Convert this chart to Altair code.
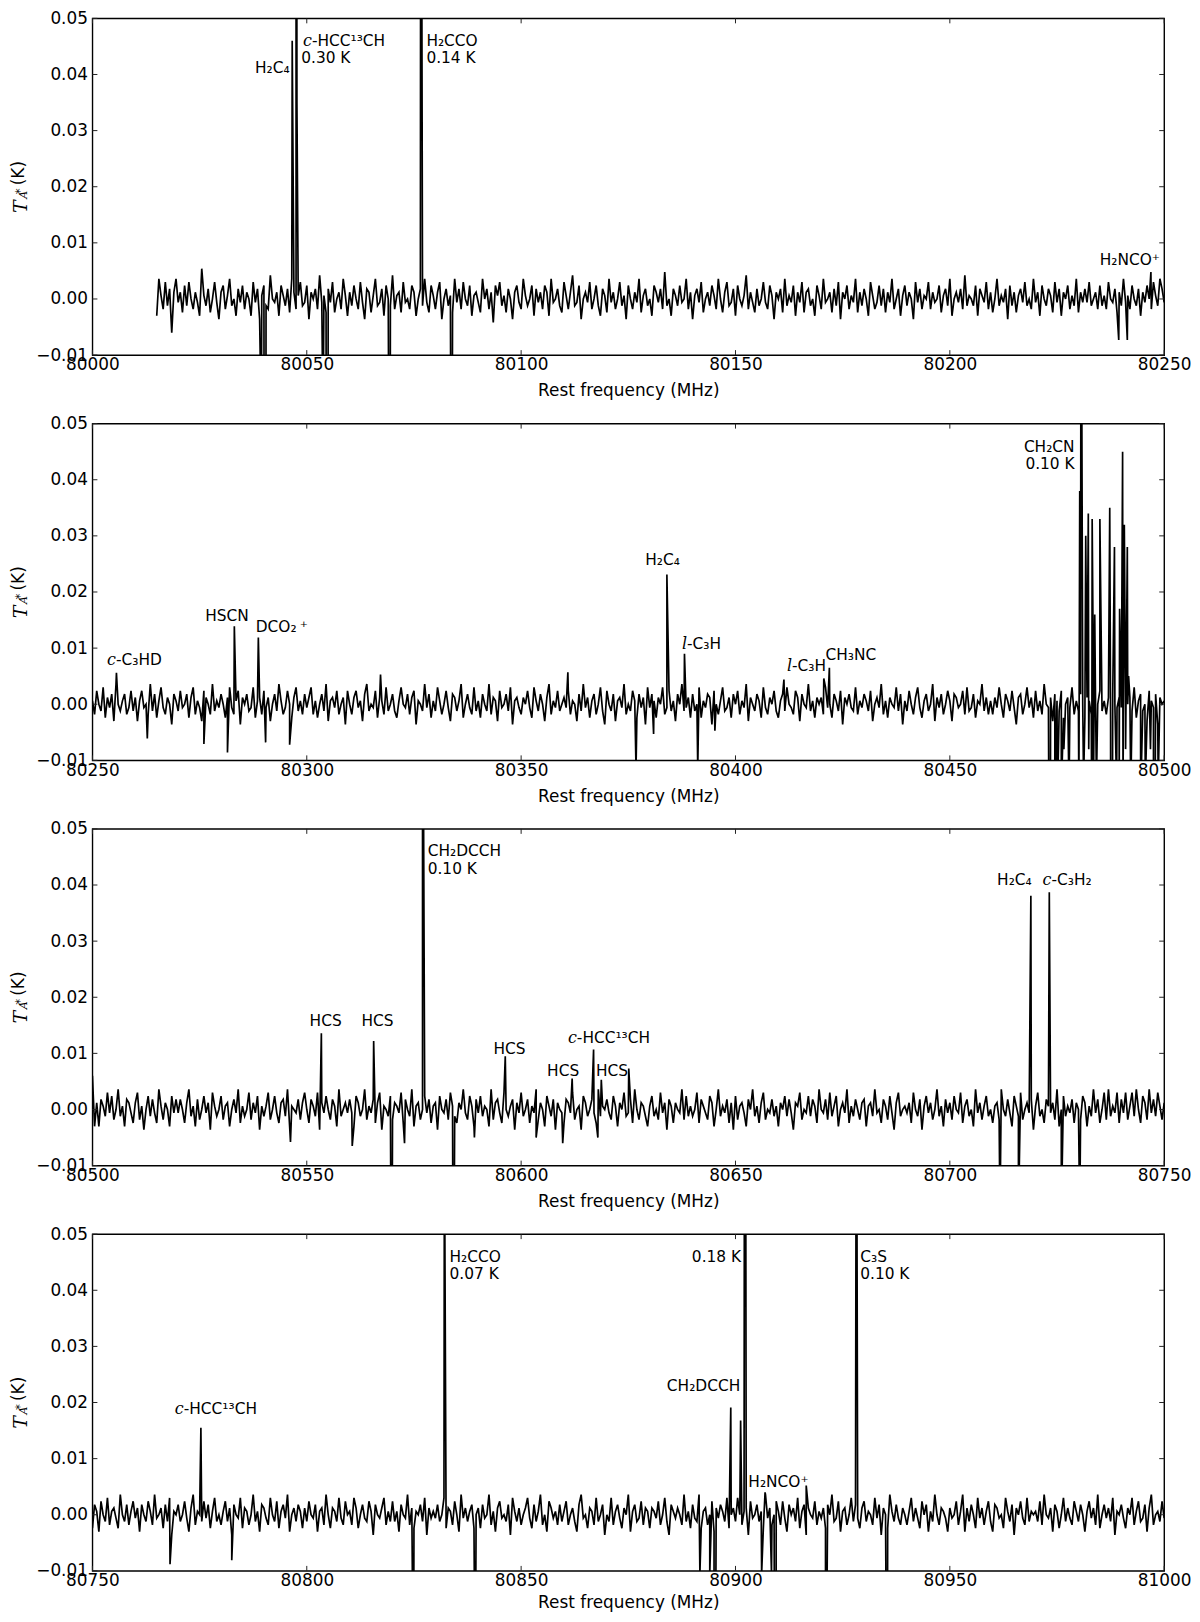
import altair as alt
import pandas as pd

# ---------------- data ----------------
PANEL_START = [80000, 80250, 80500, 80750]
NOISE_START = [80015.0, 80250.0, 80500.0, 80750.0]
NOISE_STEP = 0.5          # MHz between noise samples
NOISE_UNIT = 0.0006       # noise values below are in units of 0.6 mK

noise1 = [
    -5, 6, 1, -3, 5, -2, 3, -10, 2, 6, -1, 2, -4, 4, -2, 5, 0, -3, 2, -1,
    -5, 9, 1, -2, 3, -4, 0, 5, -1, -6, 2, 4, -3, 1, 6, -2, 0, -5, 3, -1,
    4, -3, 2, 0, -5, 5, -1, 3, -6, 1, 4, -2, -3, 7, 0, -1, 2, -5, 4, 1,
    -2, 3, -4, 6, 2, -3, 1, 5, -2, -1, 4, -6, 2, 0, 3, -3, 7, -1, 1, -4,
    3, -1, 5, -4, 0, 2, -3, 6, 1, -5, 2, -2, 4, 0, -3, 5, -1, -6, 3, 2,
    -4, 1, 6, -2, -1, 3, -5, 4, 0, -2, 7, -3, 1, 2, -4, 5, -1, 0, -3, 4,
    2, -5, 0, 3, -2, 6, -1, -4, 4, 1, -3, 2, 5, -6, 0, 3, -2, 1, -4, 6,
    -1, 3, -3, 5, 0, -2, 4, -5, 1, 2, -1, -4, 6, 0, 3, -3, 2, -7, 4, 1,
    5, -2, 1, -4, 3, 0, -6, 2, 4, -1, -3, 6, 1, -2, 0, 4, -5, 3, -1, 2,
    -3, 4, 2, -5, 6, -1, 0, 3, -2, -4, 5, 1, -3, 2, 7, -2, -1, 4, -6, 0,
    2, -1, 5, -3, 0, 4, -2, -5, 3, 1, -4, 6, -1, 2, -3, 0, 5, -2, 1, -6,
    4, 0, -3, 2, -1, 6, -4, 1, 3, -2, 0, -5, 4, 2, -1, 3, -3, 8, -2, 0,
    -5, 3, 1, -2, 4, -1, 0, 6, -3, 2, -6, 1, 3, -1, 5, -4, 0, 2, -2, 4,
    1, -3, 6, 0, -4, 2, 5, -2, -1, 3, -5, 4, 0, -2, 1, 7, -3, 2, -1, -4,
    3, -2, 0, 5, -1, -3, 4, 1, -6, 2, 0, 3, -4, 6, -2, 1, -1, 4, -5, 2,
    -1, 5, -4, 2, 3, -2, 0, -5, 4, 1, -3, 6, -1, 0, 2, -4, 3, -2, 5, -6,
    2, 0, 4, -3, 1, -1, 6, -4, 2, -2, 3, 0, -5, 5, 1, -3, -1, 4, -2, 3,
    -4, 2, -1, 6, -3, 0, 3, -5, 1, 4, -2, 2, 0, -6, 5, -1, 3, -3, 1, 0,
    5, -3, 2, -1, 0, 4, -4, 1, 3, -2, 6, -5, 0, 2, -1, 3, -3, 7, -2, 1,
    0, -2, 4, -5, 3, 1, -1, 5, -3, 2, -4, 0, 6, -2, 1, -1, 3, -6, 4, -2,
    2, -4, 1, 3, -1, 5, -2, 0, -3, 6, -1, 2, -5, 4, 0, -2, 3, 1, -4, 5,
    -1, 3, -5, 2, 0, 4, -3, 1, -2, 6, -4, 2, -1, 3, -1, 5, -2, 0, 2, -3,
    4, -2, 1, -3, 5, 0, -1, 3, -4, 2, -2, 6, -1, 1, -3, 4, 0, -2, 3, -5,
    2, -1, 4, 0, -3, 5, 1, -2, 6, 3, -1,
]
noise2 = [
    1, -3, 4, 0, -2, 5, -4, 2, -1, 3, -5, 6, 0, -2, 1, 3, -3, -1, 4, -2,
    2, -5, 1, 4, -1, 0, -3, 6, -2, 3, -4, 1, 5, -1, -3, 2, 0, -6, 3, 1,
    -2, 4, -1, 0, 3, -4, 2, 5, -3, 1, -1, -5, 4, 2, 0, -3, 6, -2, 1, -1,
    3, 0, -4, 2, 5, -1, -3, 1, 4, -6, 2, 0, 3, -2, -1, 5, -4, 1, 2, -3,
    4, -1, 2, -5, 0, 3, -2, 6, 1, -3, -1, 4, 0, -4, 2, 5, -2, 1, -3, 3,
    -1, 2, 5, -3, 1, -4, 0, 3, -2, 6, -5, 1, 2, -1, 4, -3, 0, 2, -6, 4,
    0, -3, 2, 4, -1, 1, -5, 3, 6, -2, 0, -1, 4, -4, 2, 1, -3, 5, -2, 0,
    3, -2, -4, 1, 5, 0, -1, 3, -3, 2, 4, -6, 1, 0, -2, 6, -1, 3, -4, 1,
    -2, 5, 1, -3, 0, 4, -1, -5, 3, 2, -2, 1, 6, -4, 0, 3, -1, -3, 5, -2,
    1, -4, 3, 0, -2, 6, -3, 2, 1, -5, 4, -1, 0, 3, -2, 5, -6, 1, 2, -1,
    -3, 2, 0, 4, -1, -4, 5, 1, -2, 3, 0, -5, 2, 6, -3, 1, -1, 4, -2, 0,
    2, -1, 4, -3, 1, 0, -5, 3, -2, 6, -1, 2, -4, 1, 3, -3, 0, 5, -2, -6,
    4, 0, -2, 3, -5, 1, 2, -1, 6, -3, 0, -2, 4, 1, -4, 3, -1, 2, -6, 5,
    -1, 3, 1, -4, 2, 0, 5, -3, -1, 4, -2, 1, -5, 3, 0, 6, -2, -1, 2, -4,
    3, -2, 0, 5, -4, 1, -1, 3, 2, -6, 4, 0, -3, 1, 5, -2, -1, 2, -4, 3,
    0, 4, -3, 1, -1, 6, -5, 2, 0, -2, 3, 1, -4, 5, -1, -3, 2, 0, 4, -2,
    -4, 1, 3, -2, 5, 0, -1, -3, 4, 2, -5, 3, 0, -1, 6, -2, 1, -4, 2, 0,
    2, -3, 5, -1, 0, -4, 3, 1, -2, 4, -6, 2, 0, 3, -1, -2, 5, -3, 1, -1,
    3, 1, -2, 4, -5, 0, 2, -1, 6, -3, 1, -4, 2, 0, -1, 5, -2, 3, -6, 1,
    -2, 4, 0, -3, 2, 5, -1, -4, 1, 3, -2, 0, 6, -5, 2, -1, 3, -3, 0, 4,
    1, -5, 3, 2, -1, 0, 4, -3, 5, -2, -1, 3, -4, 1, 0, 6, -2, 2, -3, 1,
    -3, 2, -1, 5, 0, -4, 3, 1, -2, 4, -1, -6, 2, 3, -3, 0, 5, -1, 2, -4,
    4, -2, 1, -3, 6, 0, -1, 2, -5, 3, 1, -2, 4, -4, 0, 2, -1, 5, -3, 1,
    -2, 3, 0, -4, 2, 1, -3, 5, -1, 0, 4, -2, 1, -3, 2, -5, 3, 0, -1, 2,
    -1, 4, -3, 0, 2, -2, 5, -4, 1, 3, -2, 0, -5, 4, 1, -1, 3, -6, 2, 0,
    1,
]
noise3 = [
    10, -5, 2, -5, 3, 1, -2, 5, -1, 4, -3, 0, 6, -2, 1, -5, 3, 2, -1, -4,
    2, 5, -3, 1, -6, 0, 4, -2, 3, -1, -4, 6, 1, -3, 2, 0, -5, 4, -1, 3,
    -1, 3, 0, -4, 2, 6, -2, 1, -5, 3, -3, 0, 4, -1, 2, -6, 5, 1, -2, 0,
    4, -3, 1, 2, -5, 0, 3, -1, 6, -4, 1, -2, 0, 5, -3, 2, -1, 4, -6, 1,
    -2, 1, 5, -3, 0, 4, -1, -4, 2, 3, -2, 6, -5, 1, 0, -1, 3, -3, 2, 5,
    0, -4, 3, 1, -2, 5, -6, 2, -1, 4, 0, -3, 3, 1, -5, 6, -2, 0, 2, -1,
    3, -1, -5, 4, 2, -2, 0, 6, -3, 1, -1, 3, -4, 2, 5, -6, 1, 0, -2, 4,
    -3, 2, 1, -1, 5, -4, 3, 0, -2, 6, -5, 1, 2, -3, 0, 4, -1, 3, -4, 1,
    2, -6, 4, 0, -1, 3, -3, 5, 1, -2, -4, 2, 0, 6, -1, -3, 4, 1, -5, 3,
    -1, 4, -2, 1, 0, -5, 6, -3, 2, 3, -1, -4, 5, 0, -2, 1, 3, -6, 2, -1,
    5, -2, 0, 3, -4, 1, -1, 6, -3, 2, 0, -5, 4, 1, -2, 3, -6, 2, 0, -1,
    -4, 3, 2, -1, 5, -3, 0, 1, -6, 4, 2, -2, 0, 3, -1, -4, 6, -2, 1, 0,
    3, -1, -3, 4, 1, -5, 2, 0, 5, -2, -1, 3, -4, 6, 0, -3, 2, 1, -2, -5,
    1, 4, -2, 0, -3, 5, -1, 2, -6, 3, 1, -4, 2, 0, -1, 6, -3, 4, -2, 1,
    -2, 0, 5, -4, 3, 1, -1, -3, 4, 2, -5, 0, 6, -2, 1, -1, 3, -4, 2, -6,
    4, -3, 1, 2, -1, -5, 3, 0, 6, -2, 1, -4, 2, 5, -3, 0, -1, 3, -2, 1,
    -5, 2, 0, 4, -2, 3, -1, -6, 2, 1, 5, -3, 0, -1, 4, -2, 3, 1, -4, 6,
    0, -1, 3, -3, 5, -2, 1, 4, -5, 0, 2, -1, 6, -4, 1, -2, 3, 0, -3, 2,
    3, -5, 1, 2, -2, 6, -1, 0, -4, 3, 1, -3, 4, -1, -6, 2, 5, -2, 0, 1,
    -1, 2, -4, 5, 0, -2, 3, -6, 1, 4, -1, 2, -3, 0, 6, -2, 1, -5, 3, -1,
    2, -3, 4, 0, -1, 5, -4, 1, 3, -2, 0, -5, 6, -1, 2, -3, 1, 4, -2, 0,
    -4, 1, 2, -3, 6, 0, -2, 3, -1, -5, 4, 1, -2, 5, -3, 0, 2, -1, 3, -6,
    1, 5, -2, 0, -4, 3, 1, -1, 2, -3, 6, -5, 0, 4, -2, 1, -1, 3, -4, 2,
    0, -3, 4, 2, -5, 1, -2, 6, -1, 3, -4, 0, 5, -3, 6, -2, 1, -1, 5, -4,
    3, -1, 5, -3, 1, 5, -2, 6, 0, -4, 4, 2, -3, 6, -1, 3, -2, 5, 1, -3,
    2,
]
noise4 = [
    -4, 3, 1, -5, 4, 0, -2, 5, -3, 1, 2, -1, -4, 6, 0, -2, 3, -3, 1, 4,
    -1, 2, -5, 3, 0, -2, 4, 1, -3, 6, -1, 0, 2, -4, 3, -2, 5, -6, 1, 0,
    3, -2, 0, 4, -1, -5, 2, 6, -3, 1, 0, -2, 4, -1, 3, -4, 1, 5, -2, 0,
    -3, 1, 4, -2, 2, -6, 3, 0, -1, 5, -4, 2, 1, -3, 0, 6, -2, 1, -5, 3,
    2, -1, -3, 5, 0, -2, 4, -4, 1, 3, -1, 6, -5, 0, 2, -2, 3, 1, -4, 2,
    -2, 4, 0, -1, 3, -5, 1, 2, -3, 6, 0, -4, 2, 1, -2, 5, -1, -3, 4, 0,
    1, -3, 5, 2, -4, 0, 3, -1, -2, 4, 1, -6, 3, 0, -1, 2, 5, -3, 1, -2,
    4, -2, 1, -5, 3, 0, -1, 6, -3, 2, -4, 1, 0, 3, -2, 5, -6, 2, -1, 1,
    -1, 3, -2, 0, 5, -4, 2, 1, -3, 4, 0, -5, 6, -1, 2, -2, 1, 3, -4, 0,
    2, -4, 3, -1, 0, 6, -3, 1, -5, 2, 4, -1, 0, -2, 3, -6, 5, 1, -2, 2,
    -3, 0, 2, 5, -1, -4, 3, -2, 1, 6, -3, 0, -5, 4, 2, -1, 1, -3, 3, -2,
    1, 4, -3, 0, 2, -2, -5, 3, 6, -1, 0, -4, 2, 1, -3, 5, -2, 0, 3, -6,
    0, -2, 5, -3, 1, 3, -1, -4, 2, 0, 6, -5, 1, 3, -2, -1, 4, -3, 2, 1,
    -4, 2, 1, -1, 4, -3, 0, 5, -2, -6, 3, 1, -1, 2, 0, -3, 6, -2, 1, -4,
    3, -1, -2, 6, -4, 1, 2, -3, 0, 4, -5, 2, -1, 3, 1, -2, 5, -4, 0, 2,
    -2, 5, 0, -3, 1, 2, -6, 4, -1, 0, 3, -2, 1, -4, 6, -1, 2, -3, 0, 4,
    1, -3, 4, -1, -5, 3, 0, 2, -2, 5, -4, 1, 3, -6, 2, 0, -1, 4, -3, 1,
    -1, 2, -4, 3, 0, 6, -2, -1, 4, -5, 1, 2, -3, 0, 5, -2, 3, -1, -4, 2,
    4, -2, 1, 0, -3, 5, -1, 3, -6, 2, 0, -4, 6, 1, -2, 3, -1, -3, 2, 0,
    -3, 1, 5, -2, 2, -1, -4, 4, 0, 3, -5, 1, -2, 6, 0, -3, 2, 1, -1, -5,
    2, -1, 0, 4, -3, 1, 6, -5, 2, -2, 3, 0, -4, 5, -1, 2, -3, 1, 4, -2,
    -5, 3, 2, -1, 0, -4, 5, 1, -2, 3, -6, 2, 0, 4, -1, -3, 5, -2, 1, 0,
    1, -2, 4, -3, 6, 0, -1, 2, -5, 3, 1, -4, 0, 5, -2, 2, -1, -3, 4, 1,
    -2, 3, 0, -5, 1, 4, -1, 2, -3, 6, -4, 0, 3, -1, 2, -2, 5, -6, 1, 0,
    3, -1, -4, 2, 0, 5, -3, 1, 4, -2, -1, 3, -5, 2, 6, -3, 0, 1, -2, 4,
    -1,
]

# line features: frequency (MHz) and antenna temperature (K)
lines1_f = [80039.4, 80040.3, 80046.6, 80047.5, 80047.7, 80053.8, 80054.7,
            80069.4, 80076.6, 80083.8, 80239.4, 80241.4, 80246.9]
lines1_t = [-0.023, -0.15, 0.046, 0.30, 0.035, -0.023, -0.15,
            -0.07, 0.14, -0.07, -0.0073, -0.0073, 0.0048]

lines2_f = [80255.6, 80262.8, 80276.0, 80281.5, 80283.1, 80288.7, 80290.4,
            80296.0, 80317.2, 80360.9, 80376.8, 80380.9, 80384.0, 80388.1,
            80391.2, 80395.2, 80411.3, 80420.6, 80421.9,
            80473.1, 80473.4, 80474.5, 80475.1, 80476.0, 80476.6, 80477.8,
            80480.1, 80480.3, 80480.6, 80481.2, 80481.7, 80482.3, 80482.4,
            80483.1, 80483.2, 80483.5, 80483.8, 80484.2, 80485.0, 80487.3,
            80487.5, 80487.8, 80488.4, 80488.9, 80489.5, 80489.6, 80490.3,
            80490.4, 80490.7, 80491.0, 80491.4, 80491.7, 80492.2, 80494.5,
            80495.6, 80496.8, 80497.5, 80497.9, 80498.6]
lines2_t = [0.0056, -0.0061, -0.0071, -0.0086, 0.0139, 0.0119, -0.0068,
            -0.0072, 0.0053, 0.0057, -0.0115, -0.0053, 0.0231, 0.0090,
            -0.0115, -0.0047, 0.0044, 0.0046, 0.0065,
            -0.019, -0.05, -0.015, -0.017, -0.016, -0.008, -0.016,
            -0.017, 0.038, 0.10, -0.014, 0.030, 0.034, -0.008,
            -0.023, 0.033, -0.016, 0.016, -0.014, 0.033, 0.035,
            -0.019, -0.05, 0.028, -0.015, -0.017, 0.017, 0.045,
            -0.016, 0.032, -0.008, 0.028, 0.005, -0.016, -0.017,
            -0.014, -0.008, -0.023, -0.016, -0.014]

lines3_f = [80546.2, 80553.4, 80560.6, 80565.6, 80569.8, 80572.8, 80577.0,
            80584.2, 80589.1, 80596.3, 80603.5, 80609.7, 80611.9, 80616.9,
            80617.9, 80618.7, 80625.1, 80711.7, 80716.0, 80718.9, 80723.2,
            80726.0, 80730.3]
lines3_t = [-0.0058, 0.0136, -0.0065, 0.0122, -0.05, -0.006, 0.10,
            -0.05, -0.005, 0.0095, -0.005, -0.006, 0.0055, 0.0107,
            -0.005, 0.0053, 0.0073, -0.019, -0.019, 0.0381, 0.0387,
            -0.019, -0.019]

lines4_f = [80768.1, 80775.3, 80782.5, 80824.9, 80832.1, 80839.3, 80891.7,
            80894.0, 80895.0, 80898.9, 80901.2, 80902.2, 80906.1, 80906.9,
            80908.4, 80909.4, 80916.5, 80921.0, 80928.2, 80935.4]
lines4_t = [-0.0088, 0.0155, -0.0081, -0.035, 0.07, -0.035, -0.0105,
            -0.0105, -0.09, 0.0191, 0.0168, 0.18, -0.0105, 0.004,
            -0.0105, -0.09, 0.0052, -0.05, 0.10, -0.05]

# labels: text, frequency, height, alignment, italic prefix
lab1_text = ["H₂C₄", "-HCC¹³CH", "0.30 K", "H₂CCO", "0.14 K", "H₂NCO⁺"]
lab1_f = [80046.0, 80051.2, 80048.7, 80077.9, 80077.9, 80249.0]
lab1_t = [0.0411, 0.0460, 0.0429, 0.0460, 0.0429, 0.0069]
lab1_align = ["right", "left", "left", "left", "left", "right"]
lab1_pre = ["", "c", "", "", "", ""]

lab2_text = ["-C₃HD", "HSCN", "DCO₂\u2009⁺", "H₂C₄", "-C₃H", "-C₃H", "CH₃NC",
             "CH₂CN", "0.10 K"]
lab2_f = [80255.5, 80281.4, 80288.1, 80383.0, 80388.7, 80413.2, 80421.0,
          80479.1, 80479.1]
lab2_t = [0.0078, 0.0158, 0.0138, 0.0257, 0.0108, 0.0068, 0.0087,
          0.0459, 0.0428]
lab2_align = ["left", "center", "left", "center", "left", "left", "left",
              "right", "right"]
lab2_pre = ["c", "", "", "", "l", "l", "", "", ""]

lab3_text = ["HCS", "HCS", "CH₂DCCH", "0.10 K", "HCS", "HCS", "-HCC¹³CH",
             "HCS", "H₂C₄", "-C₃H₂"]
lab3_f = [80554.4, 80566.5, 80578.2, 80578.2, 80597.3, 80609.8, 80613.0,
          80621.2, 80719.1, 80723.7]
lab3_t = [0.0158, 0.0158, 0.0460, 0.0429, 0.0107, 0.0069, 0.0128,
          0.0069, 0.0409, 0.0409]
lab3_align = ["center", "center", "left", "left", "center", "center", "left",
              "center", "right", "left"]
lab3_pre = ["", "", "", "", "", "", "c", "", "", "c"]

lab4_text = ["-HCC¹³CH", "H₂CCO", "0.07 K", "0.18 K", "C₃S", "0.10 K",
             "CH₂DCCH", "H₂NCO⁺"]
lab4_f = [80771.3, 80833.3, 80833.3, 80901.3, 80929.1, 80929.1, 80901.1,
          80903.0]
lab4_t = [0.0189, 0.0460, 0.0429, 0.0459, 0.0460, 0.0429, 0.0230, 0.0059]
lab4_align = ["left", "left", "left", "right", "left", "left", "right", "left"]
lab4_pre = ["c", "", "", "", "", "", "", ""]

Y_TICKS = [-0.01, 0.0, 0.01, 0.02, 0.03, 0.04, 0.05]
X_TICKS = [[s + 50 * k for k in range(6)] for s in PANEL_START]

NOISE = [noise1, noise2, noise3, noise4]
LINES = [(lines1_f, lines1_t), (lines2_f, lines2_t),
         (lines3_f, lines3_t), (lines4_f, lines4_t)]
LABELS = [(lab1_text, lab1_f, lab1_t, lab1_align, lab1_pre),
          (lab2_text, lab2_f, lab2_t, lab2_align, lab2_pre),
          (lab3_text, lab3_f, lab3_t, lab3_align, lab3_pre),
          (lab4_text, lab4_f, lab4_t, lab4_align, lab4_pre)]

# ---------------- chart ----------------
W, H = 1079, 339
FONT = "DejaVu Sans"
TICK_LEN = 5


def panel(p):
    x0 = PANEL_START[p]
    noise = NOISE[p]
    f = [NOISE_START[p] + NOISE_STEP * k for k in range(len(noise))]
    t = [v * NOISE_UNIT for v in noise]
    lf, lt = LINES[p]
    spec = pd.DataFrame({"f": f + lf, "t": t + lt})
    spec = spec.sort_values("f", kind="stable").reset_index(drop=True)
    spec["i"] = range(len(spec))

    xscale = alt.Scale(domain=[x0, x0 + 250], nice=False, zero=False)
    yscale = alt.Scale(domain=[-0.01, 0.05], nice=False, zero=False)
    xaxis = alt.Axis(values=X_TICKS[p], format="d", title="Rest frequency (MHz)",
                     labelFlush=False, labelOverlap=False, grid=False,
                     ticks=False, tickSize=0, domain=False,
                     labelPadding=2, titlePadding=10 if p < 3 else 6)
    yaxis = alt.Axis(values=Y_TICKS, format=".2f", title=None, grid=False,
                     ticks=False, tickSize=0, domain=False, labelPadding=5,
                     labelFlush=False, labelOverlap=False)

    def X(field):
        return alt.X(field, type="quantitative", scale=xscale, axis=xaxis)

    def Y(field):
        return alt.Y(field, type="quantitative", scale=yscale, axis=yaxis)

    line = alt.Chart(spec).mark_line(color="black", strokeWidth=1.7, clip=True,
                                     strokeJoin="miter").encode(
        x=X("f"), y=Y("t"), order=alt.Order("i:Q"))

    layers = [line]

    # inward ticks on all four sides
    xt = pd.DataFrame({"v": X_TICKS[p]})
    yt = pd.DataFrame({"v": Y_TICKS})
    tick_style = dict(color="#222222", strokeWidth=1)
    layers.append(alt.Chart(xt).mark_rule(**tick_style).encode(
        x=X("v"), y=alt.value(H), y2=alt.value(H - TICK_LEN)))
    layers.append(alt.Chart(xt).mark_rule(**tick_style).encode(
        x=X("v"), y=alt.value(0), y2=alt.value(TICK_LEN)))
    layers.append(alt.Chart(yt).mark_rule(**tick_style).encode(
        y=Y("v"), x=alt.value(0), x2=alt.value(TICK_LEN)))
    layers.append(alt.Chart(yt).mark_rule(**tick_style).encode(
        y=Y("v"), x=alt.value(W), x2=alt.value(W - TICK_LEN)))

    # molecule labels
    txt, lfq, lty, lal, lpre = LABELS[p]
    lab = pd.DataFrame({"s": txt, "x": lfq, "y": lty, "a": lal, "pre": lpre})
    for al in ["left", "right", "center"]:
        sub = lab[lab["a"] == al]
        if len(sub):
            layers.append(alt.Chart(sub).mark_text(
                align=al, baseline="middle", font=FONT, fontSize=15.5,
                color="black").encode(x=X("x"), y=Y("y"), text="s:N"))
    pre = lab[lab["pre"] != ""]
    if len(pre):
        layers.append(alt.Chart(pre).mark_text(
            align="right", baseline="middle", font="DejaVu Serif",
            fontStyle="italic", fontSize=16, color="black").encode(
            x=X("x"), y=Y("y"), text="pre:N"))

    # y-axis title  T*_A (K)
    one = pd.DataFrame({"d": [0]})
    common = dict(angle=270, align="left", baseline="alphabetic", color="black")
    layers.append(alt.Chart(one).mark_text(
        text="T", font="DejaVu Serif", fontStyle="italic", fontSize=19,
        **common).encode(x=alt.value(-66), y=alt.value(196)))
    layers.append(alt.Chart(one).mark_text(
        text="*", font=FONT, fontSize=12, **common).encode(
        x=alt.value(-68.5), y=alt.value(177)))
    layers.append(alt.Chart(one).mark_text(
        text="A", font="DejaVu Serif", fontStyle="italic", fontSize=11,
        **common).encode(x=alt.value(-65.5), y=alt.value(181.5)))
    layers.append(alt.Chart(one).mark_text(
        text="(K)", font=FONT, fontSize=17, **common).encode(
        x=alt.value(-68.5), y=alt.value(168)))

    return alt.layer(*layers).properties(width=W, height=H)


chart = alt.vconcat(*[panel(p) for p in range(4)], spacing=14).properties(
    padding={"left": 1, "top": -5, "right": 0, "bottom": 0}
).configure_view(stroke="black", strokeWidth=1.4).configure_axis(
    labelFont=FONT, labelFontSize=17, labelColor="black",
    titleFont=FONT, titleFontSize=17, titleColor="black",
    titleFontWeight="normal")

chart.save("out.html", embed_options={"renderer": "svg", "actions": False})
